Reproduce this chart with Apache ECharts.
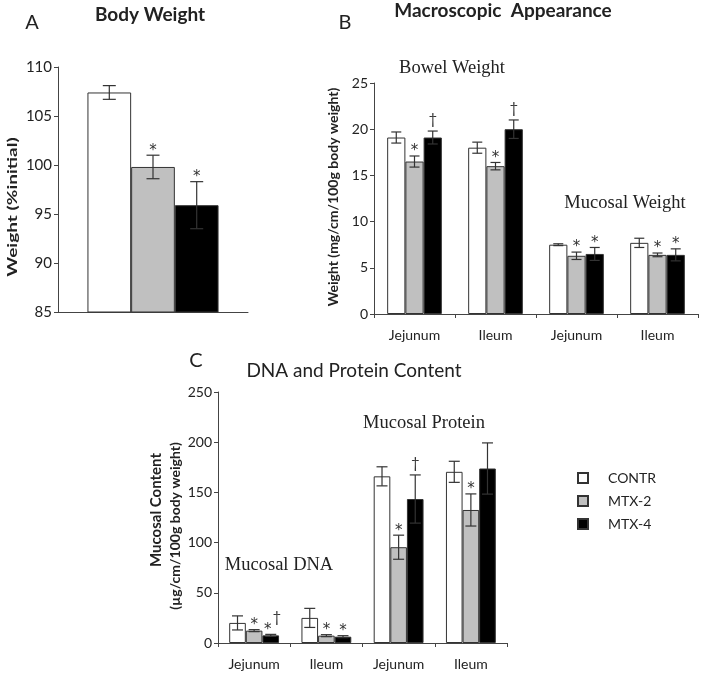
<!DOCTYPE html>
<html>
<head>
<meta charset="utf-8">
<script src="https://cdn.jsdelivr.net/npm/echarts@6/dist/echarts.min.js"></script>
<style>html,body{margin:0;padding:0;background:#fff}#c{width:703px;height:677px}</style>
</head>
<body>
<div id="c"></div>
<script>
// ---------- DATA ----------
const groupNames = ['CONTR', 'MTX-2', 'MTX-4'];

// Panel A: Body Weight (% initial)
const bodyCats = [''];
const bodyContr = [107.4];
const bodyMtx2 = [99.8];
const bodyMtx4 = [95.9];
const bodyContrErr = [0.7];
const bodyMtx2Err = [1.2];
const bodyMtx4Err = [2.4];
const bodyContrSig = [''];
const bodyMtx2Sig = ['*'];
const bodyMtx4Sig = ['*'];
const bodyTicks = [85, 90, 95, 100, 105, 110];

// Panel B: Macroscopic appearance (mg/cm/100g body weight)
const macroCats = ['Jejunum', 'Ileum', 'Jejunum', 'Ileum'];
const macroContr = [19.1, 18.0, 7.5, 7.7];
const macroMtx2 = [16.5, 16.0, 6.3, 6.4];
const macroMtx4 = [19.1, 20.0, 6.5, 6.4];
const macroContrErr = [0.6, 0.6, 0.1, 0.5];
const macroMtx2Err = [0.6, 0.4, 0.4, 0.2];
const macroMtx4Err = [0.7, 1.0, 0.7, 0.65];
const macroContrSig = ['', '', '', ''];
const macroMtx2Sig = ['*', '*', '*', '*'];
const macroMtx4Sig = ['†', '†', '*', '*'];
const macroTicks = [0, 5, 10, 15, 20, 25];

// Panel C: DNA and protein content (µg/cm/100g body weight)
const contentCats = ['Jejunum', 'Ileum', 'Jejunum', 'Ileum'];
const contentContr = [20, 25, 166, 170.5];
const contentMtx2 = [12.3, 7.3, 95.4, 132.5];
const contentMtx4 = [7.6, 6.3, 143.4, 173.8];
const contentContrErr = [7, 9.5, 9.5, 10.5];
const contentMtx2Err = [1, 1, 12, 16];
const contentMtx4Err = [1, 1, 24, 25.5];
const contentContrSig = ['', '', '', ''];
const contentMtx2Sig = ['*', '*', '*', '*'];
const contentMtx4Sig = ['*†', '*', '†', ''];
const contentTicks = [0, 50, 100, 150, 200, 250];

// ---------- STYLE ----------
const FONT = 'Lato';
const SERIF = 'Liberation Serif';
const TXT = '#222';
const AX = '#444';
const fills = ['#ffffff', '#c0c0c0', '#000000'];

const grids = [
  {left: 58, top: 67, width: 190, height: 245},
  {left: 374, top: 83, width: 324, height: 231},
  {left: 218, top: 392, width: 289, height: 251}
];

const panels = [
  {cats: bodyCats, means: [bodyContr, bodyMtx2, bodyMtx4], errs: [bodyContrErr, bodyMtx2Err, bodyMtx4Err], sigs: [bodyContrSig, bodyMtx2Sig, bodyMtx4Sig], ticks: bodyTicks, gap: 0.31, cap: 13, showX: false, lblSize: 15},
  {cats: macroCats, means: [macroContr, macroMtx2, macroMtx4], errs: [macroContrErr, macroMtx2Err, macroMtx4Err], sigs: [macroContrSig, macroMtx2Sig, macroMtx4Sig], ticks: macroTicks, gap: 0.325, cap: 10, showX: true, lblSize: 14},
  {cats: contentCats, means: [contentContr, contentMtx2, contentMtx4], errs: [contentContrErr, contentMtx2Err, contentMtx4Err], sigs: [contentContrSig, contentMtx2Sig, contentMtx4Sig], ticks: contentTicks, gap: 0.31, cap: 11, showX: true, lblSize: 14}
];

const xAxes = [], yAxes = [], series = [];
panels.forEach((p, gi) => {
  const t = p.ticks;
  xAxes.push({
    type: 'category', gridIndex: gi, data: p.cats,
    axisLine: {lineStyle: {color: AX, width: 1}},
    axisTick: {show: p.showX, length: 4, lineStyle: {color: AX}},
    axisLabel: {show: p.showX, fontFamily: FONT, fontSize: 14, color: TXT, margin: 14}
  });
  yAxes.push({
    type: 'value', gridIndex: gi, min: t[0], max: t[t.length - 1], interval: t[1] - t[0],
    splitLine: {show: false},
    axisLine: {show: true, lineStyle: {color: AX, width: 1}},
    axisTick: {show: true, length: 4, lineStyle: {color: AX}},
    axisLabel: {fontFamily: FONT, fontSize: p.lblSize, color: TXT, margin: 6}
  });
  for (let s = 0; s < 3; s++) {
    series.push({
      type: 'bar', name: groupNames[s], xAxisIndex: gi, yAxisIndex: gi,
      data: p.means[s], barGap: '0%', barCategoryGap: (p.gap * 100) + '%',
      itemStyle: {color: fills[s], borderColor: '#333', borderWidth: 1},
      emphasis: {disabled: true}, silent: true
    });
  }
  const items = [];
  for (let s = 0; s < 3; s++) {
    p.cats.forEach((c, ci) => items.push({c: ci, s: s, v: p.means[s][ci], e: p.errs[s][ci], sig: p.sigs[s][ci]}));
  }
  series.push({
    type: 'custom', xAxisIndex: gi, yAxisIndex: gi, z: 10, silent: true,
    encode: {x: 0, y: 1},
    data: items.map(it => [it.c, it.v]),
    renderItem: function (params, api) {
      const it = items[params.dataIndex];
      const band = api.size([1, 0])[0];
      const bw = band * (1 - p.gap) / 3;
      const cx = api.coord([it.c, it.v])[0] + (it.s - 1) * bw;
      const yT = api.coord([it.c, it.v + it.e])[1];
      const yB = api.coord([it.c, it.v - it.e])[1];
      const h = p.cap / 2;
      const ls = {stroke: '#333', lineWidth: 1.2};
      const ch = [
        {type: 'line', shape: {x1: cx, y1: yT, x2: cx, y2: yB}, style: ls},
        {type: 'line', shape: {x1: cx - h, y1: yT, x2: cx + h, y2: yT}, style: ls},
        {type: 'line', shape: {x1: cx - h, y1: yB, x2: cx + h, y2: yB}, style: ls}
      ];
      const sig = it.sig;
      if (sig.indexOf('*') >= 0) {
        const dx = sig.length > 1 ? -3 : 0;
        ch.push({type: 'text', x: cx + dx, y: yT + 3, style: {text: '*', fontFamily: 'DejaVu Sans', fontSize: 15, fill: '#333', textAlign: 'center', textVerticalAlign: 'bottom'}});
      }
      if (sig.indexOf('†') >= 0) {
        const dx = sig.length > 1 ? 6 : 0;
        const dy = sig.length > 1 ? -6 : 0;
        ch.push({type: 'text', x: cx + dx, y: yT - 4 + dy, style: {text: '†', fontFamily: FONT, fontSize: 15, fill: '#333', textAlign: 'center', textVerticalAlign: 'bottom'}});
      }
      return {type: 'group', children: ch};
    }
  });
});

function txt(x, y, text, opt, extra) {
  return Object.assign({type: 'text', x: x, y: y, silent: true, style: Object.assign({text: text, fill: TXT, textAlign: 'center', textVerticalAlign: 'middle', fontFamily: FONT, fontSize: 17}, opt || {})}, extra || {});
}
function vtxt(x, y, text, opt, extra) {
  const g = txt(x, y, text, opt, extra);
  g.rotation = Math.PI / 2;
  return g;
}

const graphics = [
  txt(32, 23, 'A', {fontSize: 20}),
  txt(150, 15, 'Body Weight', {fontWeight: 'bold', fontSize: 19}),
  vtxt(12, 207, 'Weight (%initial)', {fontWeight: 'bold', fontSize: 14}, {scaleX: 1.36}),
  txt(345, 23, 'B', {fontSize: 20}),
  txt(503, 11, 'Macroscopic  Appearance', {fontWeight: 'bold', fontSize: 19}),
  vtxt(333, 197, 'Weight (mg/cm/100g body weight)', {fontWeight: 'bold', fontSize: 14}),
  txt(452, 68, 'Bowel Weight', {fontFamily: SERIF, fontSize: 18.5}),
  txt(625, 203, 'Mucosal Weight', {fontFamily: SERIF, fontSize: 18.5}),
  txt(196, 361, 'C', {fontSize: 20}),
  txt(354, 371, 'DNA and Protein Content', {fontSize: 19}),
  vtxt(156, 510, 'Mucosal Content', {fontWeight: 'bold', fontSize: 15}),
  vtxt(175, 526, '(µg/cm/100g body weight)', {fontWeight: 'bold', fontSize: 14}),
  txt(424, 423, 'Mucosal Protein', {fontFamily: SERIF, fontSize: 18.5}),
  txt(279, 565, 'Mucosal DNA', {fontFamily: SERIF, fontSize: 18.5})
];

const chart = echarts.init(document.getElementById('c'), null, {renderer: 'canvas'});
chart.setOption({
  animation: false,
  backgroundColor: '#fff',
  grid: grids,
  xAxis: xAxes,
  yAxis: yAxes,
  series: series,
  legend: {
    data: groupNames, orient: 'vertical', left: 572, top: 466,
    icon: 'rect', itemWidth: 10, itemHeight: 10, itemGap: 9,
    selectedMode: false,
    textStyle: {fontFamily: FONT, fontSize: 14, color: TXT, padding: [0, 0, 0, 15], lineHeight: 14}
  },
  graphic: graphics
});
</script>
</body>
</html>
